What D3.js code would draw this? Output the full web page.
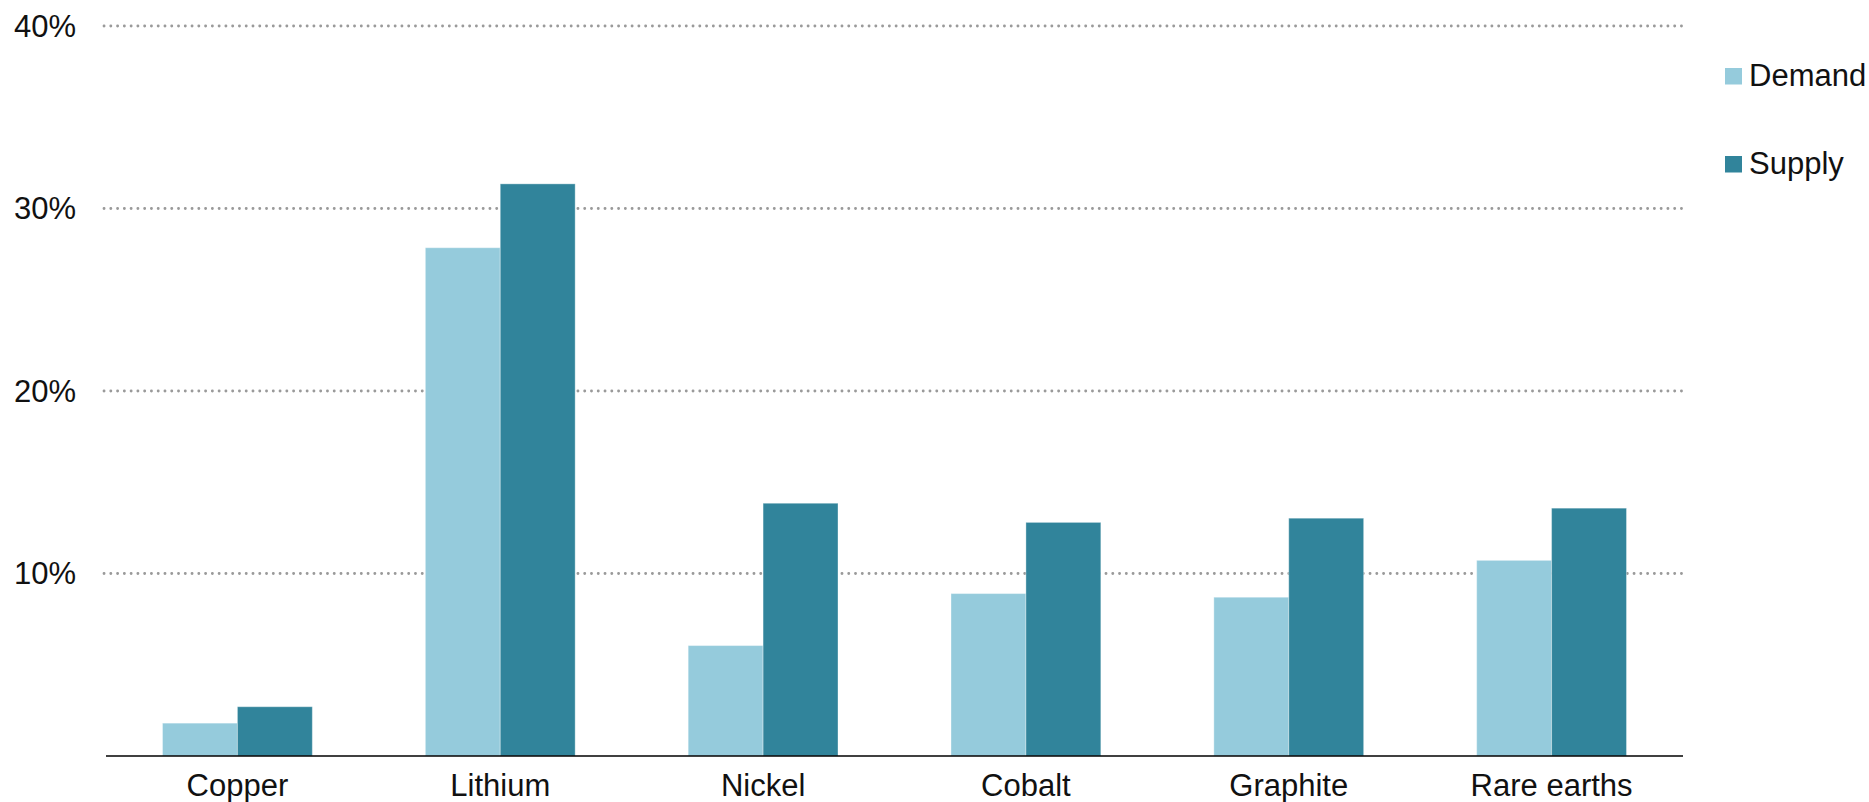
<!DOCTYPE html>
<html>
<head>
<meta charset="utf-8">
<script src="https://cdn.jsdelivr.net/npm/d3@7"></script>
<style>
  body { margin: 0; background: #fff; }
  text { font-family: "Liberation Sans", Arial, sans-serif; fill: #111; }
  .grid line { stroke: #9a9a9a; stroke-width: 2.8; stroke-dasharray: 0.1 6.67; stroke-linecap: round; }
</style>
</head>
<body>
<svg width="1869" height="802"></svg>
<script>
const categories = ['Copper', 'Lithium', 'Nickel', 'Cobalt', 'Graphite', 'Rare earths'];
const demand = [1.8, 27.85, 6.05, 8.9, 8.7, 10.72];
const supply = [2.7, 31.35, 13.85, 12.8, 13.03, 13.58];
const series = ['Demand', 'Supply'];
const colors = ['#95cbdc', '#31849b'];
const yTicks = [10, 20, 30, 40];

const svg = d3.select('svg');
const marginLeft = 106, plotRight = 1683, plotTop = 26, plotBottom = 756;

const x = d3.scaleBand()
    .domain(categories)
    .range([marginLeft, plotRight])
    .paddingInner(0.43)
    .paddingOuter(0.215);

const x1 = d3.scaleBand()
    .domain(series)
    .range([0, x.bandwidth()]);

const y = d3.scaleLinear()
    .domain([0, 40])
    .range([plotBottom, plotTop]);

// gridlines
svg.append('g')
    .attr('class', 'grid')
    .selectAll('line')
    .data(yTicks)
    .enter().append('line')
    .attr('x1', 104)
    .attr('x2', plotRight)
    .attr('y1', d => y(d))
    .attr('y2', d => y(d));

// y labels
svg.append('g')
    .selectAll('text')
    .data(yTicks)
    .enter().append('text')
    .attr('x', 76)
    .attr('y', d => y(d))
    .attr('dy', '0.35em')
    .attr('text-anchor', 'end')
    .style('font-size', '31px')
    .text(d => d + '%');

// bars
const rows = categories.map((c, i) => ({cat: c, values: [demand[i], supply[i]]}));

const groups = svg.append('g')
    .selectAll('g')
    .data(rows)
    .enter().append('g')
    .attr('transform', d => `translate(${x(d.cat)},0)`);

groups.selectAll('rect')
    .data(d => d.values.map((v, j) => ({key: series[j], v: v, j: j})))
    .enter().append('rect')
    .attr('x', d => x1(d.key))
    .attr('width', x1.bandwidth())
    .attr('y', d => y(d.v))
    .attr('height', d => plotBottom - y(d.v))
    .attr('fill', d => colors[d.j])
    .attr('stroke', 'rgba(255,255,255,0.35)')
    .attr('stroke-width', 1);

// baseline
svg.append('line')
    .attr('x1', marginLeft)
    .attr('x2', plotRight)
    .attr('y1', plotBottom)
    .attr('y2', plotBottom)
    .attr('stroke', '#000')
    .attr('stroke-width', 1.5);

// x labels
svg.append('g')
    .selectAll('text')
    .data(categories)
    .enter().append('text')
    .attr('x', d => x(d) + x.bandwidth() / 2)
    .attr('y', 796)
    .attr('text-anchor', 'middle')
    .style('font-size', '31px')
    .text(d => d);

// legend
const legend = svg.append('g')
    .selectAll('g')
    .data(series)
    .enter().append('g')
    .attr('transform', (d, i) => `translate(1725,${68 + i * 88})`);

legend.append('rect')
    .attr('width', 17)
    .attr('height', 16.5)
    .attr('fill', (d, i) => colors[i]);

legend.append('text')
    .attr('x', 24)
    .attr('y', 17.5)
    .style('font-size', '31px')
    .text(d => d);
</script>
</body>
</html>
